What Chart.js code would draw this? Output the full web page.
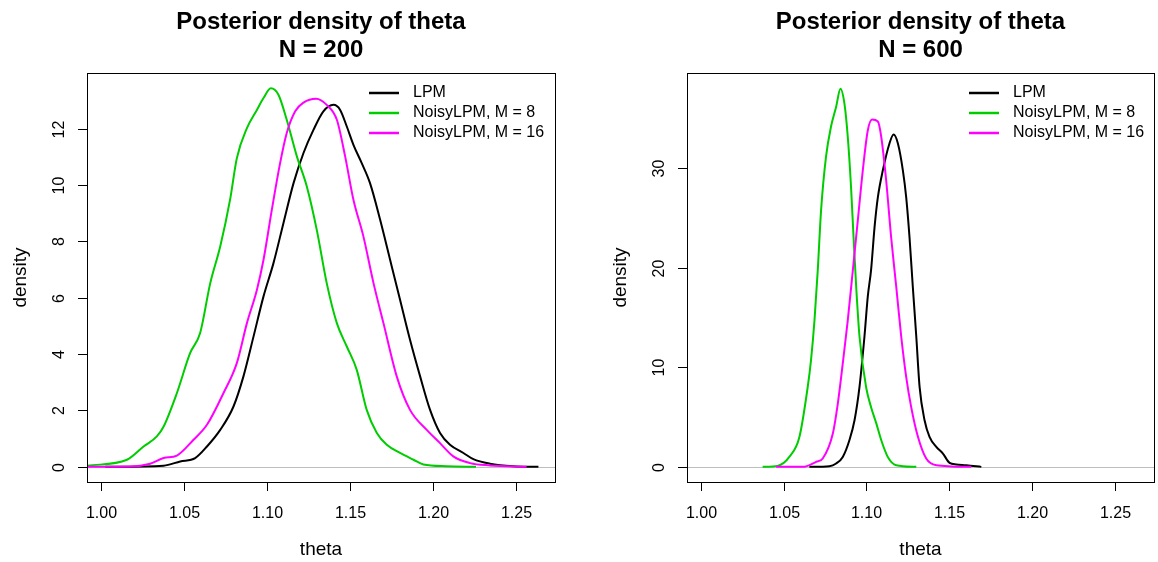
<!DOCTYPE html>
<html>
<head>
<meta charset="utf-8">
<script src="https://cdn.jsdelivr.net/npm/chart.js@4/dist/chart.umd.min.js"></script>
<style>
  html, body { margin: 0; padding: 0; background: #fff; }
  #wrap { position: relative; width: 1158px; height: 562px; }
  canvas { position: absolute; top: 0; }
</style>
</head>
<body>
<div id="wrap">
  <canvas id="plot-n200" width="579" height="562" style="left:0"></canvas>
  <canvas id="plot-n600" width="579" height="562" style="left:579px"></canvas>
</div>
<script>
// ---- data ----
const seriesNames = ['LPM', 'NoisyLPM, M = 8', 'NoisyLPM, M = 16'];
const seriesColors = ['#000000', '#00CD00', '#FF00FF'];

const xTicks = [1.00, 1.05, 1.10, 1.15, 1.20, 1.25];
const xTickLabels = ['1.00', '1.05', '1.10', '1.15', '1.20', '1.25'];
const yTicks200 = [0, 2, 4, 6, 8, 10, 12];
const yTicks600 = [0, 10, 20, 30];

// N = 200
const thetaLpm200 = [1.0026, 1.0378, 1.0478, 1.0568, 1.0639, 1.0719, 1.0799, 1.0859, 1.0920, 1.0980, 1.1040, 1.1100, 1.1161, 1.1221, 1.1281, 1.1341, 1.1402, 1.1442, 1.1482, 1.1522, 1.1572, 1.1622, 1.1683, 1.1743, 1.1803, 1.1863, 1.1924, 1.1984, 1.2044, 1.2104, 1.2185, 1.2245, 1.2345, 1.2486, 1.2637];
const densLpm200  = [0, 0.04, 0.19, 0.31, 0.72, 1.31, 2.14, 3.21, 4.63, 6.05, 7.23, 8.65, 10.07, 11.14, 11.96, 12.62, 12.85, 12.67, 12.08, 11.43, 10.78, 10.07, 8.77, 7.35, 5.93, 4.51, 3.21, 2.02, 1.20, 0.78, 0.49, 0.27, 0.11, 0.02, 0];
const thetaM8_200 = [0.9920, 1.0157, 1.0257, 1.0337, 1.0378, 1.0458, 1.0538, 1.0598, 1.0659, 1.0719, 1.0779, 1.0819, 1.0880, 1.0940, 1.0980, 1.1024, 1.1070, 1.1120, 1.1181, 1.1241, 1.1301, 1.1361, 1.1422, 1.1482, 1.1542, 1.1602, 1.1663, 1.1723, 1.1803, 1.1884, 1.1944, 1.2084, 1.2261];
const densM8_200  = [0.04, 0.25, 0.72, 1.08, 1.43, 2.62, 4.04, 4.75, 6.52, 7.82, 9.50, 10.95, 12.02, 12.67, 13.09, 13.44, 13.21, 12.32, 11.02, 9.95, 8.41, 6.52, 5.10, 4.27, 3.44, 2.02, 1.20, 0.78, 0.49, 0.25, 0.08, 0.02, 0];
const thetaM16_200 = [0.9920, 1.0177, 1.0297, 1.0378, 1.0458, 1.0558, 1.0639, 1.0739, 1.0819, 1.0880, 1.0940, 1.0980, 1.1030, 1.1080, 1.1120, 1.1171, 1.1221, 1.1297, 1.1361, 1.1422, 1.1472, 1.1522, 1.1582, 1.1643, 1.1703, 1.1783, 1.1863, 1.1964, 1.2044, 1.2124, 1.2225, 1.2345, 1.2566];
const densM16_200  = [0, 0.01, 0.11, 0.31, 0.40, 0.96, 1.49, 2.62, 3.68, 5.10, 6.28, 7.35, 9.12, 10.78, 11.85, 12.62, 12.93, 13.07, 12.85, 12.32, 11.02, 9.48, 8.18, 6.52, 5.10, 3.21, 2.02, 1.31, 0.84, 0.37, 0.13, 0.05, 0];

// N = 600
const thetaLpm600 = [1.0655, 1.0776, 1.0817, 1.0857, 1.0897, 1.0928, 1.0958, 1.0988, 1.1008, 1.1028, 1.1049, 1.1069, 1.1099, 1.1139, 1.1164, 1.1190, 1.1220, 1.1240, 1.1260, 1.1280, 1.1301, 1.1321, 1.1351, 1.1381, 1.1422, 1.1462, 1.1502, 1.1543, 1.1603, 1.1694];
const densLpm600  = [0, 0.07, 0.34, 1.0, 2.68, 4.69, 8.04, 13.1, 17.1, 19.8, 24.1, 27.1, 29.8, 32.5, 33.4, 32.5, 29.8, 27.1, 23.1, 18.1, 13.1, 8.04, 4.69, 3.02, 2.01, 1.34, 0.40, 0.24, 0.17, 0];
const thetaM8_600 = [1.0373, 1.0464, 1.0534, 1.0595, 1.0645, 1.0665, 1.0686, 1.0706, 1.0726, 1.0756, 1.0786, 1.0817, 1.0843, 1.0867, 1.0887, 1.0907, 1.0922, 1.0938, 1.0958, 1.0998, 1.1028, 1.1059, 1.1089, 1.1129, 1.1180, 1.1301];
const densM8_600  = [0, 0.1, 1.0, 3.0, 8.0, 10.7, 14.7, 19.8, 25.8, 31.2, 34.2, 36.2, 38.0, 36.5, 33.2, 28.1, 23.1, 18.1, 13.1, 8.0, 6.0, 4.4, 2.7, 1.0, 0.17, 0];
const thetaM16_600 = [1.0454, 1.0615, 1.0696, 1.0736, 1.0797, 1.0827, 1.0857, 1.0887, 1.0918, 1.0948, 1.0978, 1.1008, 1.1034, 1.1069, 1.1089, 1.1119, 1.1149, 1.1180, 1.1210, 1.1240, 1.1270, 1.1311, 1.1361, 1.1422, 1.1633];
const densM16_600  = [0, 0, 0.5, 0.84, 3.35, 6.36, 10.4, 14.7, 19.8, 24.8, 29.8, 33.8, 34.9, 34.7, 33.2, 28.8, 23.1, 18.1, 13.1, 9.05, 6.03, 3.02, 0.84, 0.17, 0];

const xLimits = [0.9916, 1.2737];
const yLimits200 = [-0.54, 13.98];
const yLimits600 = [-1.52, 39.58];

// ---- drawing ----
const FONT = '"Liberation Sans", Arial, Helvetica, sans-serif';

function toPoints(xs, ys) {
  return xs.map((x, i) => ({ x: x, y: ys[i] }));
}

function makeDataset(idx, xs, ys) {
  return {
    label: seriesNames[idx],
    data: toPoints(xs, ys),
    borderColor: seriesColors[idx],
    borderWidth: 2,
    pointRadius: 0,
    showLine: true,
    fill: false,
    cubicInterpolationMode: 'monotone',
    order: 2 - idx
  };
}

// R style frame, axes, titles and legend
const rStyle = {
  id: 'rStyle',
  beforeDatasetsDraw(chart, args, opts) {
    const ctx = chart.ctx;
    const a = chart.chartArea;
    const y0 = chart.scales.y.getPixelForValue(0);
    ctx.save();
    ctx.strokeStyle = '#BEBEBE';
    ctx.lineWidth = 1;
    ctx.beginPath();
    ctx.moveTo(a.left, Math.round(y0) + 0.5);
    ctx.lineTo(a.right, Math.round(y0) + 0.5);
    ctx.stroke();
    ctx.restore();
  },
  afterDraw(chart, args, opts) {
    const ctx = chart.ctx;
    const a = chart.chartArea;
    const xs = chart.scales.x, ys = chart.scales.y;
    const midX = (a.left + a.right) / 2;
    ctx.save();
    ctx.strokeStyle = '#000';
    ctx.lineWidth = 1;
    ctx.strokeRect(Math.round(a.left) + 0.5, Math.round(a.top) + 0.5,
                   Math.round(a.right - a.left), Math.round(a.bottom - a.top));

    // x axis
    ctx.fillStyle = '#000';
    ctx.font = '16px ' + FONT;
    ctx.textAlign = 'center';
    ctx.textBaseline = 'middle';
    xTicks.forEach((v, i) => {
      const px = Math.round(xs.getPixelForValue(v)) + 0.5;
      ctx.beginPath();
      ctx.moveTo(px, a.bottom);
      ctx.lineTo(px, a.bottom + 9);
      ctx.stroke();
      ctx.fillText(xTickLabels[i], px, a.bottom + 32);
    });

    // y axis, labels turned like R
    opts.yTicks.forEach(v => {
      const py = Math.round(ys.getPixelForValue(v)) + 0.5;
      ctx.beginPath();
      ctx.moveTo(a.left, py);
      ctx.lineTo(a.left - 9, py);
      ctx.stroke();
      ctx.save();
      ctx.translate(a.left - 27, py);
      ctx.rotate(-Math.PI / 2);
      ctx.fillText(String(v), 0, 0);
      ctx.restore();
    });

    // axis titles
    ctx.font = '19px ' + FONT;
    ctx.fillText('theta', midX, a.bottom + 68);
    ctx.save();
    ctx.translate(a.left - 66, (a.top + a.bottom) / 2);
    ctx.rotate(-Math.PI / 2);
    ctx.fillText('density', 0, 0);
    ctx.restore();

    // main title
    ctx.font = 'bold 24px ' + FONT;
    ctx.textBaseline = 'alphabetic';
    ctx.fillText('Posterior density of theta', midX, 29);
    ctx.fillText(opts.subtitle, midX, 57);

    // legend
    ctx.font = '16px ' + FONT;
    ctx.textAlign = 'left';
    ctx.textBaseline = 'middle';
    seriesNames.forEach((name, i) => {
      const ly = a.top + 20 + i * 20;
      ctx.strokeStyle = seriesColors[i];
      ctx.lineWidth = 2.5;
      ctx.beginPath();
      ctx.moveTo(a.left + opts.legendX, ly);
      ctx.lineTo(a.left + opts.legendX + 30, ly);
      ctx.stroke();
      ctx.fillText(name, a.left + opts.legendX + 44, ly);
    });
    ctx.restore();
  }
};

function makeChart(id, datasets, yLim, yTicks, subtitle, pad, legendX) {
  return new Chart(document.getElementById(id), {
    type: 'scatter',
    data: { datasets: datasets },
    options: {
      responsive: false,
      animation: false,
      devicePixelRatio: 1,
      layout: { padding: pad },
      scales: {
        x: { type: 'linear', min: xLimits[0], max: xLimits[1], display: false },
        y: { type: 'linear', min: yLim[0], max: yLim[1], display: false }
      },
      plugins: {
        legend: { display: false },
        tooltip: { enabled: false },
        rStyle: { yTicks: yTicks, subtitle: subtitle, legendX: legendX }
      }
    },
    plugins: [rStyle]
  });
}

makeChart('plot-n200', [
  makeDataset(0, thetaLpm200, densLpm200),
  makeDataset(1, thetaM8_200, densM8_200),
  makeDataset(2, thetaM16_200, densM16_200)
], yLimits200, yTicks200, 'N = 200', { left: 87, right: 24, top: 73, bottom: 80 }, 282);

makeChart('plot-n600', [
  makeDataset(0, thetaLpm600, densLpm600),
  makeDataset(1, thetaM8_600, densM8_600),
  makeDataset(2, thetaM16_600, densM16_600)
], yLimits600, yTicks600, 'N = 600', { left: 108, right: 4, top: 73, bottom: 80 }, 282);
</script>
</body>
</html>
